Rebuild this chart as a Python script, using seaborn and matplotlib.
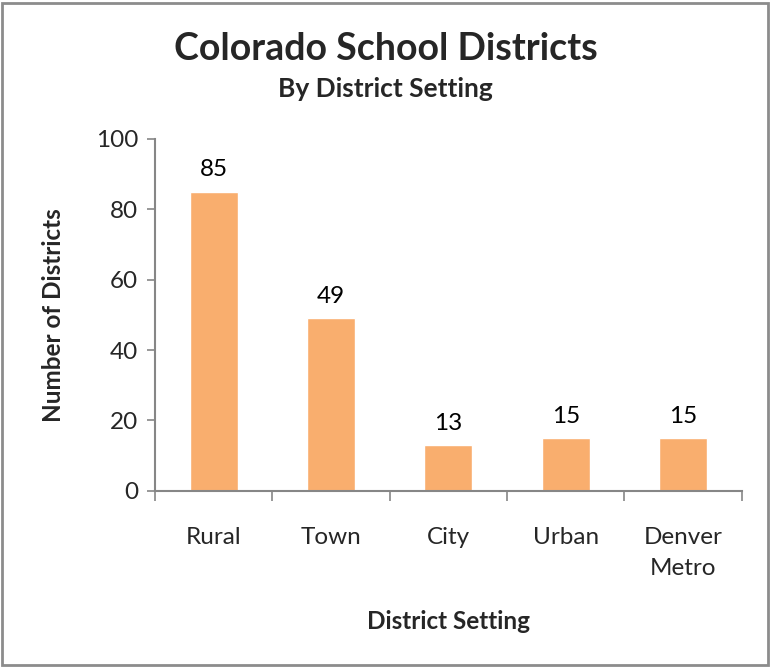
import numpy as np
import pandas as pd
import matplotlib
matplotlib.use("Agg")
import matplotlib.pyplot as plt
from matplotlib.patches import Rectangle
from matplotlib.ticker import FixedLocator, NullFormatter
import seaborn as sns

# Number of Colorado school districts by setting
settings = ["Rural", "Town", "City", "Urban", "Denver\nMetro"]
districts = [85, 49, 13, 15, 15]

df = pd.DataFrame({"setting": settings, "districts": districts})

sns.set_theme(style="white")
plt.rcParams["font.family"] = ["Lato", "DejaVu Sans"]

bar_color = "#F9AE6E"
axis_color = "#868686"

fig = plt.figure(figsize=(7.71, 6.67), dpi=100)
ax = fig.add_axes([0.201, 0.264, 0.761, 0.528])

sns.barplot(data=df, x="setting", y="districts", color=bar_color,
            width=0.41, saturation=1, ax=ax)

for container in ax.containers:
    ax.bar_label(container, labels=[str(v) for v in districts],
                 padding=8, fontsize=17.5, color="black")

ax.set_ylim(0, 100)
ax.set_xlim(-0.5, len(settings) - 0.5)
ax.set_yticks([0, 20, 40, 60, 80, 100])
ax.tick_params(axis="y", which="major", direction="out", length=6,
               width=1.2, color=axis_color, labelsize=17.5, pad=6, left=True)

# category separators as major ticks, labels on minor ticks
ax.xaxis.set_major_locator(FixedLocator(np.arange(-0.5, len(settings), 1.0)))
ax.xaxis.set_major_formatter(NullFormatter())
ax.xaxis.set_minor_locator(FixedLocator(np.arange(len(settings))))
ax.set_xticklabels(settings, minor=True, linespacing=1.6)
ax.tick_params(axis="x", which="minor", length=0, labelsize=17.5, pad=26)
ax.tick_params(axis="x", which="major", direction="out", length=7,
               width=1.2, color=axis_color, bottom=True)

for side in ["top", "right"]:
    ax.spines[side].set_visible(False)
for side in ["left", "bottom"]:
    ax.spines[side].set_color(axis_color)
    ax.spines[side].set_linewidth(1.5)

ax.set_xlabel("District Setting", fontsize=17.5, fontweight="bold", labelpad=22)
ax.set_ylabel("Number of Districts", fontsize=17.5, fontweight="bold", labelpad=22)

fig.text(0.5, 0.927, "Colorado School Districts", ha="center", va="center",
         fontsize=27, fontweight="bold")
fig.text(0.5, 0.867, "By District Setting", ha="center", va="center",
         fontsize=19, fontweight="bold")

fig.patches.append(Rectangle((0.002, 0.003), 0.994, 0.992,
                             transform=fig.transFigure, fill=False,
                             edgecolor="#8C8C8C", linewidth=2))

fig.savefig("out.png", dpi=100)
